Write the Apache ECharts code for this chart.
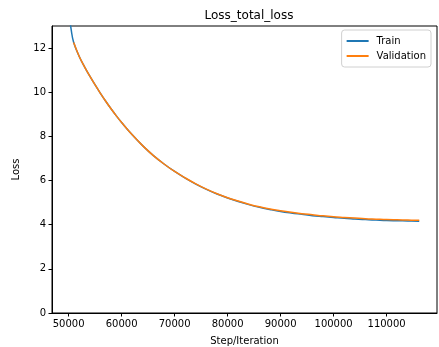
<!DOCTYPE html>
<html style="height: 100%">
<head>
<meta charset="utf-8">
</head>
<body style="height: 100%; margin: 0; background: #fff">
	<div id="container" style="width: 439px; height: 347px"></div>
	<script type="text/javascript"
		src="https://cdn.jsdelivr.net/npm/echarts/dist/echarts.min.js"></script>
	<script type="text/javascript">
		// values
		var trainSteps = [ 50160, 50500, 50950, 52000, 53000, 54000, 55000,
				56000, 57000, 58000, 59000, 60000, 62000, 64000, 66000, 68000,
				70000, 72000, 74000, 76000, 78000, 80000, 82000, 84000, 86000,
				88000, 90000, 92000, 94000, 96000, 98000, 100000, 102000,
				104000, 106000, 108000, 110000, 112000, 114000, 116160 ];
		var trainLoss = [ 13.45, 12.80, 12.25, 11.62, 11.15, 10.73, 10.33,
				9.95, 9.59, 9.25, 8.93, 8.63, 8.07, 7.57, 7.13, 6.75, 6.41,
				6.11, 5.84, 5.60, 5.39, 5.21, 5.05, 4.91, 4.79, 4.69, 4.60,
				4.53, 4.47, 4.41, 4.37, 4.33, 4.29, 4.26, 4.23, 4.21, 4.19,
				4.18, 4.17, 4.16 ];
		var valSteps = [ 50950, 52000, 53000, 54000, 55000, 56000, 57000,
				58000, 59000, 60000, 62000, 64000, 66000, 68000, 70000, 72000,
				74000, 76000, 78000, 80000, 82000, 84000, 86000, 88000, 90000,
				92000, 94000, 96000, 98000, 100000, 102000, 104000, 106000,
				108000, 110000, 112000, 114000, 116160 ];
		var valLoss = [ 12.25, 11.62, 11.15, 10.73, 10.33, 9.95, 9.59, 9.25,
				8.93, 8.63, 8.07, 7.57, 7.13, 6.75, 6.41, 6.12, 5.85, 5.61,
				5.40, 5.22, 5.07, 4.93, 4.81, 4.71, 4.63, 4.56, 4.50, 4.45,
				4.40, 4.36, 4.33, 4.30, 4.27, 4.25, 4.23, 4.22, 4.21, 4.20 ];
		var xTicks = [ 50000, 60000, 70000, 80000, 90000, 100000, 110000 ];
		var yTicks = [ 0, 2, 4, 6, 8, 10, 12 ];

		function pairs(xs, ys) {
			var out = [];
			for (var i = 0; i < xs.length; i++) {
				out.push([ xs[i], ys[i] ]);
			}
			return out;
		}

		var font = 'DejaVu Sans';
		var dom = document.getElementById("container");
		var myChart = echarts.init(dom, null, {
			renderer : 'canvas'
		});
		var option = {
			animation : false,
			backgroundColor : '#fff',
			title : {
				text : 'Loss_total_loss',
				left : 244,
				textAlign : 'center',
				top : 5,
				textStyle : {
					fontFamily : font,
					fontSize : 12,
					fontWeight : 'normal',
					color : '#000'
				}
			},
			legend : {
				orient : 'vertical',
				right : 8,
				top : 30,
				padding : [ 6, 5, 6, 5 ],
				itemGap : 5,
				itemWidth : 22,
				itemHeight : 2,
				icon : 'rect',
				borderColor : '#d0d0d0',
				borderWidth : 1,
				borderRadius : 3,
				backgroundColor : 'rgba(255,255,255,0.8)',
				textStyle : {
					fontFamily : font,
					fontSize : 10,
					color : '#000',
					padding : [ 0, 0, 0, 3 ]
				},
				data : [ 'Train', 'Validation' ]
			},
			grid : {
				left : 52,
				right : 2,
				top : 26,
				bottom : 34,
				outerBoundsMode : 'none',
				containLabel : false,
				show : true,
				borderColor : '#000',
				borderWidth : 1
			},
			xAxis : {
				type : 'value',
				min : 46860,
				max : 119510,
				name : 'Step/Iteration',
				nameLocation : 'middle',
				nameGap : 23,
				nameTextStyle : {
					fontFamily : font,
					fontSize : 10,
					color : '#000'
				},
				axisLine : {
					show : true,
					onZero : false,
					lineStyle : {
						color : '#000'
					}
				},
				splitLine : {
					show : false
				},
				axisTick : {
					show : true,
					length : 3.5,
					customValues : xTicks,
					lineStyle : {
						color : '#000'
					}
				},
				axisLabel : {
					customValues : xTicks,
					margin : 6,
					fontFamily : font,
					fontSize : 10,
					color : '#000',
					formatter : function(v) {
						return String(v);
					}
				}
			},
			yAxis : {
				type : 'value',
				min : 0,
				max : 13,
				name : 'Loss',
				nameLocation : 'middle',
				nameGap : 31,
				nameTextStyle : {
					fontFamily : font,
					fontSize : 10,
					color : '#000'
				},
				axisLine : {
					show : true,
					onZero : false,
					lineStyle : {
						color : '#000'
					}
				},
				splitLine : {
					show : false
				},
				axisTick : {
					show : true,
					length : 3.5,
					customValues : yTicks,
					lineStyle : {
						color : '#000'
					}
				},
				axisLabel : {
					customValues : yTicks,
					margin : 6,
					fontFamily : font,
					fontSize : 10,
					color : '#000'
				}
			},
			series : [ {
				name : 'Train',
				type : 'line',
				data : pairs(trainSteps, trainLoss),
				showSymbol : false,
				smooth : 0.4,
				clip : true,
				color : '#1f77b4',
				lineStyle : {
					width : 1.5,
					color : '#1f77b4'
				}
			}, {
				name : 'Validation',
				type : 'line',
				data : pairs(valSteps, valLoss),
				showSymbol : false,
				smooth : 0.4,
				clip : true,
				color : '#ff7f0e',
				lineStyle : {
					width : 1.5,
					color : '#ff7f0e'
				}
			} ]
		};
		myChart.setOption(option);
	</script>
</body>
</html>
